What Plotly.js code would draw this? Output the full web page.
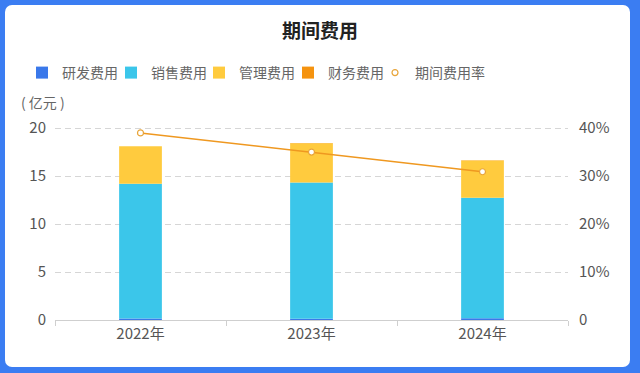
<!DOCTYPE html>
<html>
<head>
<meta charset="utf-8">
<script src="https://cdn.plot.ly/plotly-3.0.1.min.js"></script>
<style>
html,body{margin:0;padding:0;width:640px;height:373px;overflow:hidden;background:#3b7df2;}
#card{position:absolute;left:5px;top:5px;width:625px;height:362px;background:#fff;border-radius:7px;}
#chart{position:absolute;left:0;top:0;width:640px;height:373px;}
</style>
</head>
<body>
<div id="card"></div>
<div id="chart"></div>
<script>
var years = ['2022年', '2023年', '2024年'];
var rdExpense = [0.15, 0.12, 0.18];
var salesExpense = [14.05, 14.2, 12.55];
var adminExpense = [3.9, 4.1, 3.9];
var financeExpense = [0.02, 0.02, 0.02];
var expenseRate = [0.39, 0.35, 0.309];
var leftTickVals = [0, 5, 10, 15, 20];
var leftTickText = ['0', '5', '10', '15', '20'];
var rightTickVals = [0, 0.1, 0.2, 0.3, 0.4];
var rightTickText = ['0', '10%', '20%', '30%', '40%'];

var font = '"Noto Sans CJK SC", "Noto Sans", sans-serif';
var barW = 0.25;
var headroom = 1.011;
function bar(name, y, color, lg) {
  return {type: 'bar', name: name, x: years, y: y, width: barW, legend: lg,
    marker: {color: color, line: {width: 0}}, hoverinfo: 'skip'};
}
var traces = [
  bar('研发费用', rdExpense, '#3a78ea', 'legend'),
  bar('销售费用', salesExpense, '#3bc6ea', 'legend2'),
  bar('管理费用', adminExpense, '#ffcb3e', 'legend3'),
  bar('财务费用', financeExpense, '#f5930f', 'legend4'),
  {type: 'scatter', mode: 'lines', x: years, y: expenseRate, yaxis: 'y2',
    line: {color: '#ef9820', width: 1.5}, showlegend: false, hoverinfo: 'skip'},
  {type: 'scatter', mode: 'markers', name: '期间费用率', x: years, y: expenseRate, yaxis: 'y2', legend: 'legend5',
    marker: {symbol: 'circle', size: 6, color: '#ffffff', line: {color: '#e8a53a', width: 1.2}}, hoverinfo: 'skip'}
];
function lg(px) {
  return {orientation: 'h', xref: 'container', yref: 'container', xanchor: 'left', x: px/640,
    y: 1 - 73/373, yanchor: 'middle', font: {family: font, size: 14, color: '#666'},
    itemwidth: 30, bgcolor: 'rgba(0,0,0,0)'};
}
var layout = {
  width: 640, height: 373,
  paper_bgcolor: 'rgba(0,0,0,0)', plot_bgcolor: 'rgba(0,0,0,0)',
  margin: {l: 55, r: 72, t: 126, b: 53},
  font: {family: font, size: 13, color: '#666'},
  barmode: 'relative', bargap: 0.75,
  showlegend: true,
  title: {text: '<b>期间费用</b>', font: {family: font, size: 19, color: '#222'},
    x: 0.5, xref: 'container', y: 1 - 31/373, yref: 'container', yanchor: 'middle'},
  legend: lg(22), legend2: lg(111), legend3: lg(199), legend4: lg(288), legend5: lg(375),
  xaxis: {type: 'category', showgrid: false, showline: true, linecolor: '#cfcfcf', linewidth: 1,
    ticks: 'outside', tickson: 'boundaries', ticklen: 5, tickcolor: '#cfcfcf',
    tickfont: {family: font, size: 15, color: '#555'}, fixedrange: true},
  yaxis: {range: [0, 20 * headroom], tickvals: leftTickVals, ticktext: leftTickText,
    showgrid: true, gridcolor: '#d6d6d6', griddash: '6px,4px', gridwidth: 1,
    zeroline: false, showline: false, ticks: '', ticklabelstandoff: 8,
    tickfont: {family: font, size: 15, color: '#555'}},
  yaxis2: {range: [0, 0.4 * headroom], overlaying: 'y', side: 'right', tickvals: rightTickVals, ticktext: rightTickText,
    showgrid: false, zeroline: false, showline: false, ticks: '', ticklabelstandoff: 10,
    tickfont: {family: font, size: 15, color: '#555'}},
  annotations: [{text: '( 亿元 )', xref: 'paper', yref: 'paper', x: -36/513, y: (320-102)/194,
    xanchor: 'left', yanchor: 'middle', showarrow: false, font: {family: font, size: 14, color: '#666'}}]
};
Plotly.newPlot('chart', traces, layout, {displayModeBar: false, staticPlot: true});
</script>
</body>
</html>
